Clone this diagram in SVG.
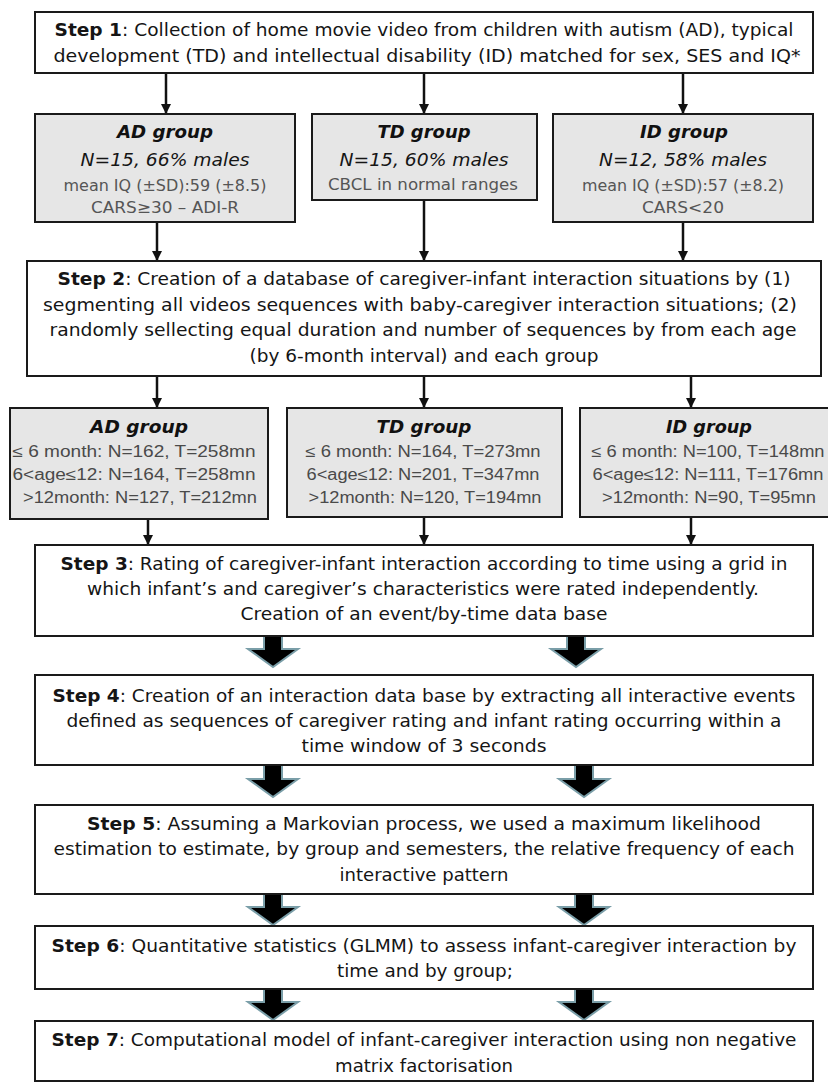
<svg xmlns="http://www.w3.org/2000/svg" width="828" height="1082" viewBox="0 0 828 1082">
<style>
.box{fill:#ffffff;stroke:#1a1a1a;stroke-width:2}
.gbox{fill:#e6e6e6;stroke:#1a1a1a;stroke-width:2}
.st{font-family:"DejaVu Sans",Verdana,sans-serif;font-size:17px;fill:#151515;text-anchor:middle}
.b{font-weight:bold}
.gt{font-family:"DejaVu Sans",Verdana,sans-serif;font-size:18px;font-weight:bold;font-style:italic;fill:#111;text-anchor:middle}
.gi{font-family:"DejaVu Sans",Verdana,sans-serif;font-size:17px;font-style:italic;fill:#151515;text-anchor:middle}
.gd{font-family:"DejaVu Sans",Verdana,sans-serif;font-size:16px;fill:#555;text-anchor:middle}
.r2{font-family:"Liberation Sans",Arial,sans-serif;font-size:16px;fill:#4a4a4a;text-anchor:middle}
.ln{stroke:#111;stroke-width:2.5;fill:none}
.blk{fill:#000;stroke:#7a9ea8;stroke-width:2;stroke-linejoin:miter}
</style>
<defs>
<marker id="ah" viewBox="0 0 10 10" refX="9" refY="5" markerWidth="4" markerHeight="4" orient="auto" markerUnits="strokeWidth">
<path d="M0,0 L10,5 L0,10 z" fill="#111"/>
</marker>
<path id="bigarrow" class="blk" d="M-9,0 L9,0 L9,17 L25,17 L0,35 L-25,17 L-9,17 z"/>
</defs>
<rect width="828" height="1082" fill="#ffffff"/>

<g id="connectors">
<line class="ln" x1="166" y1="73" x2="166" y2="113" marker-end="url(#ah)"/>
<line class="ln" x1="424" y1="73" x2="424" y2="113" marker-end="url(#ah)"/>
<line class="ln" x1="683" y1="73" x2="683" y2="113" marker-end="url(#ah)"/>
<line class="ln" x1="157" y1="222" x2="157" y2="260" marker-end="url(#ah)"/>
<line class="ln" x1="424" y1="200" x2="424" y2="260" marker-end="url(#ah)"/>
<line class="ln" x1="683" y1="222" x2="683" y2="260" marker-end="url(#ah)"/>
<line class="ln" x1="157" y1="376" x2="157" y2="407" marker-end="url(#ah)"/>
<line class="ln" x1="424" y1="376" x2="424" y2="407" marker-end="url(#ah)"/>
<line class="ln" x1="691" y1="376" x2="691" y2="407" marker-end="url(#ah)"/>
<line class="ln" x1="148" y1="519" x2="148" y2="544" marker-end="url(#ah)"/>
<line class="ln" x1="424" y1="517" x2="424" y2="544" marker-end="url(#ah)"/>
<line class="ln" x1="691" y1="517" x2="691" y2="544" marker-end="url(#ah)"/>
<use href="#bigarrow" x="273" y="632"/>
<use href="#bigarrow" x="576" y="632"/>
<use href="#bigarrow" x="273" y="762"/>
<use href="#bigarrow" x="584" y="762"/>
<use href="#bigarrow" x="273" y="890"/>
<use href="#bigarrow" x="584" y="890"/>
<use href="#bigarrow" x="273" y="985"/>
<use href="#bigarrow" x="584" y="985"/>
</g>

<g id="step1">
<rect class="box" x="35" y="12" width="778" height="61"/>
<text class="st" x="424" y="36" textLength="739" lengthAdjust="spacingAndGlyphs"><tspan class="b">Step 1</tspan>: Collection of home movie video from children with autism (AD), typical</text>
<text class="st" x="427" y="62" textLength="747" lengthAdjust="spacingAndGlyphs">development (TD) and intellectual disability (ID) matched for sex, SES and IQ*</text>
</g>

<g id="ad1">
<rect class="gbox" x="35" y="114" width="260" height="108"/>
<text class="gt" x="165" y="138" textLength="96" lengthAdjust="spacingAndGlyphs">AD group</text>
<text class="gi" x="165" y="166" textLength="169" lengthAdjust="spacingAndGlyphs">N=15, 66% males</text>
<text class="gd" x="165" y="191" textLength="203" lengthAdjust="spacingAndGlyphs">mean IQ (±SD):59 (±8.5)</text>
<text class="gd" x="165" y="213" textLength="148" lengthAdjust="spacingAndGlyphs">CARS≥30 – ADI-R</text>
</g>

<g id="td1">
<rect class="gbox" x="312" y="114" width="225" height="86"/>
<text class="gt" x="424" y="138" textLength="93" lengthAdjust="spacingAndGlyphs">TD group</text>
<text class="gi" x="424" y="166" textLength="169" lengthAdjust="spacingAndGlyphs">N=15, 60% males</text>
<text class="gd" x="423" y="190" textLength="190" lengthAdjust="spacingAndGlyphs">CBCL in normal ranges</text>
</g>

<g id="id1">
<rect class="gbox" x="553" y="114" width="260" height="108"/>
<text class="gt" x="684" y="138" textLength="88" lengthAdjust="spacingAndGlyphs">ID group</text>
<text class="gi" x="683" y="166" textLength="168" lengthAdjust="spacingAndGlyphs">N=12, 58% males</text>
<text class="gd" x="683" y="191" textLength="202" lengthAdjust="spacingAndGlyphs">mean IQ (±SD):57 (±8.2)</text>
<text class="gd" x="683" y="213" textLength="82" lengthAdjust="spacingAndGlyphs">CARS&lt;20</text>
</g>

<g id="step2">
<rect class="box" x="27" y="261" width="794" height="115"/>
<text class="st" x="424" y="285" textLength="733" lengthAdjust="spacingAndGlyphs"><tspan class="b">Step 2</tspan>: Creation of a database of caregiver-infant interaction situations by (1)</text>
<text class="st" x="420" y="311" textLength="754" lengthAdjust="spacingAndGlyphs">segmenting all videos sequences with baby-caregiver interaction situations; (2)</text>
<text class="st" x="423" y="336" textLength="747" lengthAdjust="spacingAndGlyphs">randomly sellecting equal duration and number of sequences by from each age</text>
<text class="st" x="424" y="362" textLength="349" lengthAdjust="spacingAndGlyphs">(by 6-month interval) and each group</text>
</g>

<g id="ad2">
<rect class="gbox" x="10" y="408" width="258" height="111"/>
<text class="gt" x="139" y="433" textLength="98" lengthAdjust="spacingAndGlyphs">AD group</text>
<text class="r2" x="134" y="457" textLength="243" lengthAdjust="spacingAndGlyphs">≤ 6 month: N=162, T=258mn</text>
<text class="r2" x="134" y="480" textLength="243" lengthAdjust="spacingAndGlyphs">6&lt;age≤12: N=164, T=258mn</text>
<text class="r2" x="140" y="503" textLength="234" lengthAdjust="spacingAndGlyphs">&gt;12month: N=127, T=212mn</text>
</g>

<g id="td2">
<rect class="gbox" x="287" y="408" width="275" height="109"/>
<text class="gt" x="424" y="433" textLength="95" lengthAdjust="spacingAndGlyphs">TD group</text>
<text class="r2" x="423" y="457" textLength="235" lengthAdjust="spacingAndGlyphs">≤ 6 month: N=164, T=273mn</text>
<text class="r2" x="423" y="480" textLength="233" lengthAdjust="spacingAndGlyphs">6&lt;age≤12: N=201, T=347mn</text>
<text class="r2" x="425" y="503" textLength="233" lengthAdjust="spacingAndGlyphs">&gt;12month: N=120, T=194mn</text>
</g>

<g id="id2">
<rect class="gbox" x="580" y="408" width="252" height="109"/>
<text class="gt" x="709" y="433" textLength="86" lengthAdjust="spacingAndGlyphs">ID group</text>
<text class="r2" x="708" y="457" textLength="233" lengthAdjust="spacingAndGlyphs">≤ 6 month: N=100, T=148mn</text>
<text class="r2" x="708" y="480" textLength="231" lengthAdjust="spacingAndGlyphs">6&lt;age≤12: N=111, T=176mn</text>
<text class="r2" x="709" y="503" textLength="214" lengthAdjust="spacingAndGlyphs">&gt;12month: N=90, T=95mn</text>
</g>

<g id="step3">
<rect class="box" x="35" y="545" width="778" height="91"/>
<text class="st" x="424" y="570" textLength="727" lengthAdjust="spacingAndGlyphs"><tspan class="b">Step 3</tspan>: Rating of caregiver-infant interaction according to time using a grid in</text>
<text class="st" x="423" y="595" textLength="672" lengthAdjust="spacingAndGlyphs">which infant’s and caregiver’s characteristics were rated independently.</text>
<text class="st" x="424" y="620" textLength="367" lengthAdjust="spacingAndGlyphs">Creation of an event/by-time data base</text>
</g>

<g id="step4">
<rect class="box" x="35" y="675" width="778" height="90"/>
<text class="st" x="424" y="702" textLength="743" lengthAdjust="spacingAndGlyphs"><tspan class="b">Step 4</tspan>: Creation of an interaction data base by extracting all interactive events</text>
<text class="st" x="424" y="727" textLength="715" lengthAdjust="spacingAndGlyphs">defined as sequences of caregiver rating and infant rating occurring within a</text>
<text class="st" x="424" y="752" textLength="245" lengthAdjust="spacingAndGlyphs">time window of 3 seconds</text>
</g>

<g id="step5">
<rect class="box" x="35" y="805" width="778" height="89"/>
<text class="st" x="424" y="830" textLength="674" lengthAdjust="spacingAndGlyphs"><tspan class="b">Step 5</tspan>: Assuming a Markovian process, we used a maximum likelihood</text>
<text class="st" x="424" y="855" textLength="741" lengthAdjust="spacingAndGlyphs">estimation to estimate, by group and semesters, the relative frequency of each</text>
<text class="st" x="424" y="881" textLength="169" lengthAdjust="spacingAndGlyphs">interactive pattern</text>
</g>

<g id="step6">
<rect class="box" x="35" y="926" width="778" height="63"/>
<text class="st" x="424" y="952" textLength="745" lengthAdjust="spacingAndGlyphs"><tspan class="b">Step 6</tspan>: Quantitative statistics (GLMM) to assess infant-caregiver interaction by</text>
<text class="st" x="425" y="977" textLength="176" lengthAdjust="spacingAndGlyphs">time and by group;</text>
</g>

<g id="step7">
<rect class="box" x="35" y="1021" width="778" height="60"/>
<text class="st" x="424" y="1046" textLength="745" lengthAdjust="spacingAndGlyphs"><tspan class="b">Step 7</tspan>: Computational model of infant-caregiver interaction using non negative</text>
<text class="st" x="424" y="1072" textLength="178" lengthAdjust="spacingAndGlyphs">matrix factorisation</text>
</g>
</svg>
